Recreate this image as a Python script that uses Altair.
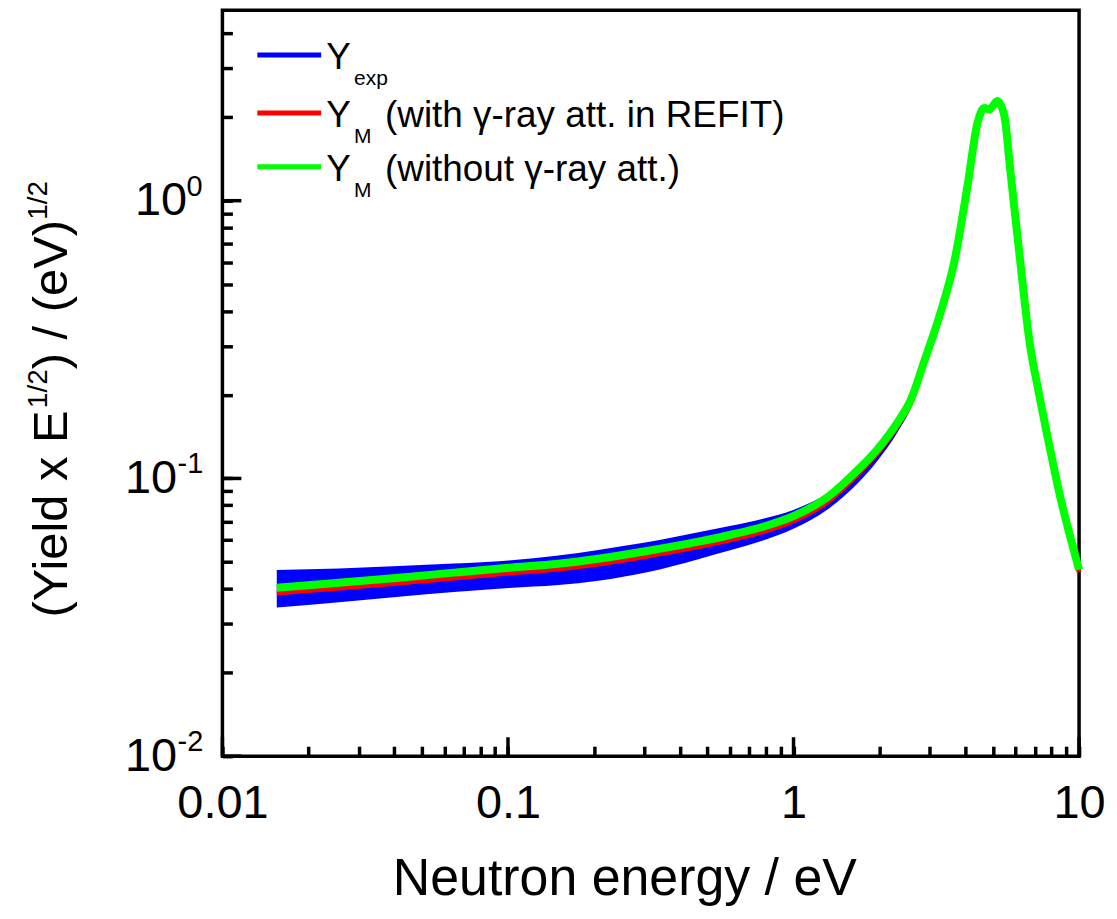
import altair as alt
import pandas as pd

# ---------------- data ----------------
energy_ev = [0.0155, 0.0256, 0.0415, 0.0646, 0.1006, 0.150, 0.207, 0.310, 0.464, 0.604,
             0.782, 1.003, 1.319, 1.679, 1.971, 2.316, 2.571, 2.877, 3.273, 3.663,
             4.067, 4.407, 4.662, 4.853, 5.176, 5.474, 5.745, 6.228, 6.694, 7.255,
             7.863, 8.590, 9.308, 10.0]

# Y_exp (noisy measurement) : lower / upper envelope of the blue band
y_exp_low = [0.0343, 0.0358, 0.0375, 0.0390, 0.0403, 0.0413, 0.0428, 0.0460, 0.0512, 0.0552,
             0.0598, 0.0660, 0.0775, 0.0960, 0.1160, 0.1470, 0.1790, 0.2540, 0.3800, 0.5900,
             1.110, 1.880, 2.130, 2.100, 2.260, 1.990, 1.260, 0.588, 0.308, 0.195,
             0.128, 0.0835, 0.0600, 0.0455]
y_exp_high = [0.0468, 0.0474, 0.0484, 0.0494, 0.0507, 0.0528, 0.0553, 0.0590, 0.0640, 0.0675,
              0.0716, 0.0772, 0.0887, 0.1092, 0.1292, 0.1607, 0.1922, 0.2672, 0.3975, 0.6110,
              1.140, 1.915, 2.175, 2.150, 2.320, 2.035, 1.295, 0.605, 0.318, 0.2015,
              0.1330, 0.0868, 0.0627, 0.0477]

# Y_M with gamma-ray attenuation in REFIT (red)
y_m_refit = [0.0387, 0.0403, 0.0420, 0.0438, 0.0457, 0.0472, 0.0492, 0.0526, 0.0567, 0.0601,
             0.0643, 0.0704, 0.0825, 0.1035, 0.1235, 0.1550, 0.1865, 0.2610, 0.3900, 0.6020,
             1.125, 1.900, 2.160, 2.125, 2.280, 2.010, 1.270, 0.592, 0.311, 0.197,
             0.130, 0.0846, 0.0608, 0.0460]

# Y_M without gamma-ray attenuation (green)
y_m_noatt = [0.0404, 0.0421, 0.0439, 0.0458, 0.0477, 0.0493, 0.0514, 0.0549, 0.0592, 0.0627,
             0.0670, 0.0733, 0.0858, 0.1073, 0.1276, 0.1595, 0.1913, 0.2663, 0.3962, 0.6087,
             1.132, 1.906, 2.158, 2.130, 2.286, 2.020, 1.281, 0.5988, 0.3144, 0.1995,
             0.1319, 0.0858, 0.0617, 0.0469]

x_major = [0.01, 0.1, 1, 10]
x_minor = [0.02, 0.03, 0.04, 0.05, 0.06, 0.07, 0.08, 0.09,
           0.2, 0.3, 0.4, 0.5, 0.6, 0.7, 0.8, 0.9,
           2, 3, 4, 5, 6, 7, 8, 9]
y_major = [0.01, 0.1, 1]
y_minor = [0.02, 0.03, 0.04, 0.05, 0.06, 0.07, 0.08, 0.09,
           0.2, 0.3, 0.4, 0.5, 0.6, 0.7, 0.8, 0.9,
           2, 3, 4]
y_label_exponent = ["-2", "-1", "0"]

# ---------------- chart ----------------
W, H = 859, 748
FONT = "Liberation Sans"
BLUE, RED, GREEN = "#0000ff", "#ff0000", "#00ff00"
MINOR_LEN, MAJOR_LEN = 10, 19

df = pd.DataFrame({"E": energy_ev, "lo": y_exp_low, "hi": y_exp_high,
                   "refit": y_m_refit, "noatt": y_m_noatt})
sup_df = pd.DataFrame({"v": y_major, "s": y_label_exponent})
xmaj_df = pd.DataFrame({"v": x_major})
ymaj_df = pd.DataFrame({"v": y_major})
one = pd.DataFrame({"_": [0]})

xs = alt.Scale(type="log", domain=[0.01, 10], nice=False)
ys = alt.Scale(type="log", domain=[0.01, 4.85], nice=False)

band = alt.Chart(df).mark_area(color=BLUE, interpolate="monotone", opacity=1).encode(
    x=alt.X("E:Q", scale=xs, axis=alt.Axis(
        orient="bottom", values=x_major, labelExpr="datum.value + ''",
        ticks=False, tickSize=0, domain=False, grid=False,
        labelFont=FONT, labelFontSize=47, labelColor="black", labelPadding=24,
        labelFlush=False, labelOverlap=False,
        title="Neutron energy / eV", titleFont=FONT, titleFontSize=52,
        titleFontWeight="normal", titleColor="black", titleX=403, titleY=139,
        titleAlign="center", titleBaseline="alphabetic")),
    y=alt.Y("lo:Q", scale=ys, axis=alt.Axis(
        orient="left", values=y_major, labelExpr="'10'",
        ticks=False, tickSize=0, domain=False, grid=False,
        labelFont=FONT, labelFontSize=47, labelColor="black",
        labelPadding={"condition": {"test": "datum.value == 1", "value": 36}, "value": 46},
        labelFlush=False, labelOverlap=False, labelBaseline="middle", title=None)),
    y2="hi:Q",
)

# inward-pointing minor ticks: extra axes moved onto the bottom / left frame edges
red = alt.Chart(df).mark_line(color=RED, strokeWidth=5, interpolate="monotone").encode(
    x=alt.X("E:Q", scale=xs, axis=alt.Axis(
        orient="top", offset=-H, values=x_minor + x_major, labels=False,
        domain=False, grid=False, ticks=True, tickColor="black", tickWidth=3.5,
        tickSize=MINOR_LEN, title=None)),
    y=alt.Y("refit:Q", scale=ys, axis=alt.Axis(
        orient="right", offset=-W, values=y_minor + y_major, labels=False,
        domain=False, grid=False, ticks=True, tickColor="black", tickWidth=3.5,
        tickSize=MINOR_LEN, title=None)),
)

green = alt.Chart(df).mark_line(color=GREEN, strokeWidth=8, interpolate="monotone").encode(
    x=alt.X("E:Q", scale=xs, axis=None),
    y=alt.Y("noatt:Q", scale=ys, axis=None),
)

# longer inward major ticks
xmaj_ticks = alt.Chart(xmaj_df).mark_rule(color="black", strokeWidth=3.5).encode(
    x=alt.X("v:Q", scale=xs, axis=None), y=alt.value(H), y2=alt.value(H - MAJOR_LEN))
ymaj_ticks = alt.Chart(ymaj_df).mark_rule(color="black", strokeWidth=3.5).encode(
    y=alt.Y("v:Q", scale=ys, axis=None), x=alt.value(0), x2=alt.value(MAJOR_LEN))

sup0 = alt.Chart(sup_df).transform_filter("datum.v == 1").mark_text(
    align="left", baseline="alphabetic", font=FONT, fontSize=29, dy=-5, color="black"
).encode(x=alt.value(-36), y=alt.Y("v:Q", scale=ys, axis=None), text="s:N")
sup_neg = alt.Chart(sup_df).transform_filter("datum.v < 1").mark_text(
    align="left", baseline="alphabetic", font=FONT, fontSize=29, dy=-5, color="black"
).encode(x=alt.value(-45), y=alt.Y("v:Q", scale=ys, axis=None), text="s:N")


def txt(s, x, y, size, angle=0):
    return alt.Chart(one).mark_text(
        text=s, font=FONT, fontSize=size, color="black", align="left",
        baseline="alphabetic", angle=angle
    ).encode(x=alt.value(x), y=alt.value(y))


def legend_line(color, y):
    return alt.Chart(one).mark_rule(color=color, strokeWidth=5).encode(
        x=alt.value(35), x2=alt.value(99), y=alt.value(y))


legend = [
    legend_line(BLUE, 45), txt("Y", 104, 59, 37), txt("exp", 132, 75, 21),
    legend_line(RED, 103), txt("Y", 104, 117, 37), txt("M", 132, 133, 21),
    txt("(with \u03b3-ray att. in REFIT)", 163, 117, 37),
    legend_line(GREEN, 157), txt("Y", 104, 171, 37), txt("M", 132, 187, 21),
    txt("(without \u03b3-ray att.)", 163, 171, 37),
]

ytitle = [
    txt("(Yield x E", -156, 609, 49, 270),
    txt("1/2", -176, 399, 28, 270),
    txt(") / (eV)", -156, 360, 49, 270),
    txt("1/2", -176, 210, 28, 270),
]

chart = alt.layer(band, red, green, xmaj_ticks, ymaj_ticks, sup0, sup_neg,
                  *legend, *ytitle).properties(
    width=W, height=H,
    autosize=alt.AutoSizeParams(type="none"),
    padding={"left": 215, "top": 1, "right": 30, "bottom": 154},
    background="white",
).configure_view(stroke="black", strokeWidth=3.5).configure_axis(grid=False)

chart.save("out.html", embed_options={"renderer": "svg", "actions": False})
